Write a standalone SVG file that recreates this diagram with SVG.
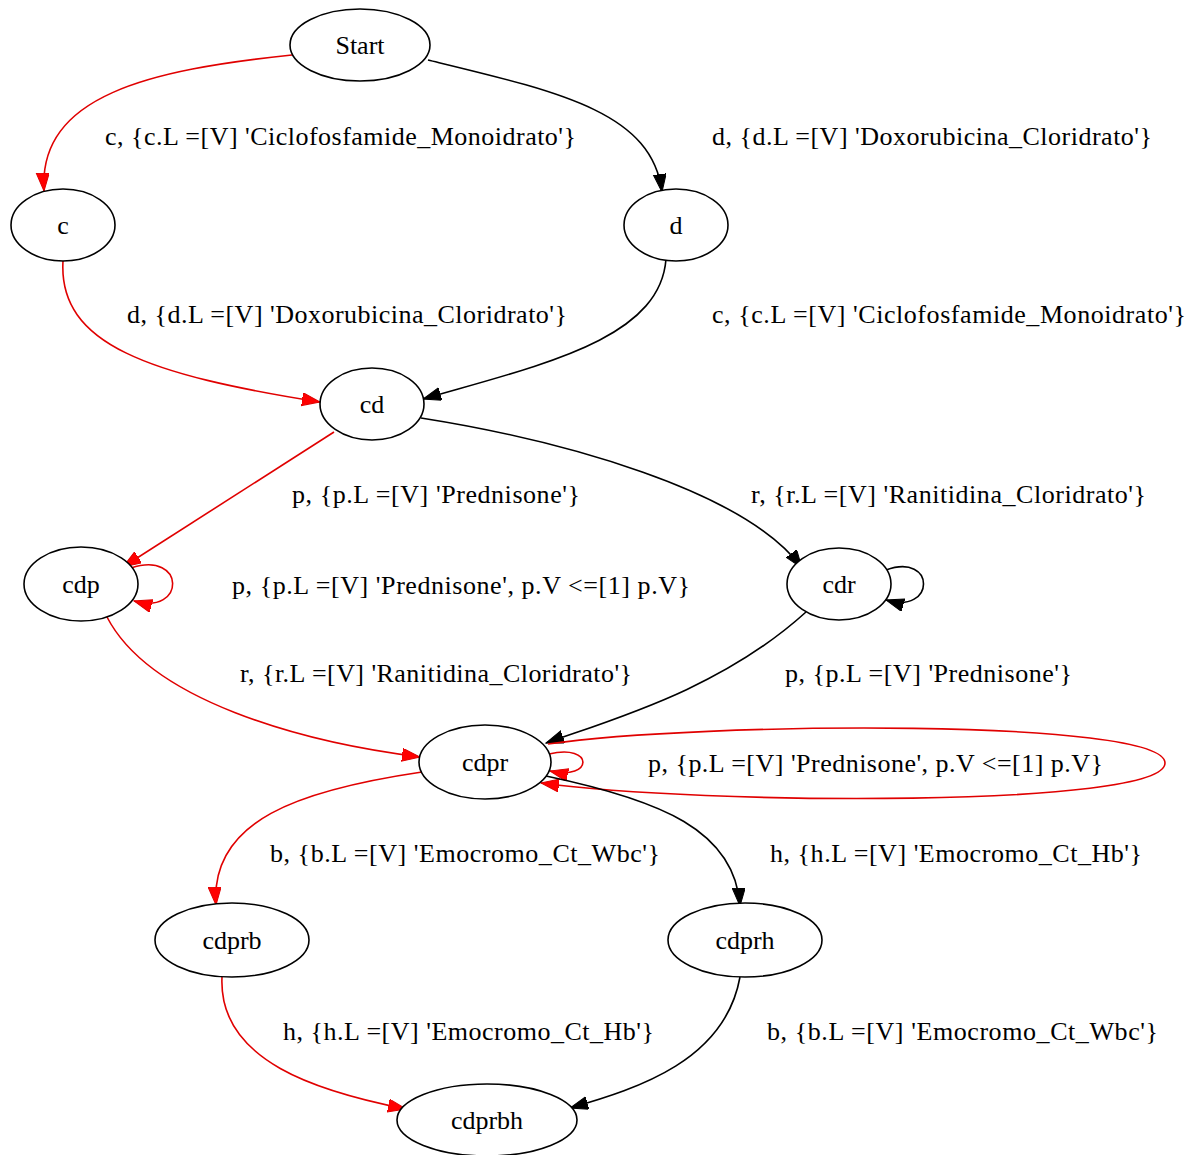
<svg xmlns="http://www.w3.org/2000/svg" width="1195" height="1155" viewBox="0 0 1195 1155">
  <style>
    .node ellipse { fill: #fff; stroke: #000; stroke-width: 1.6; }
    text { font-family: "Liberation Serif", "Times New Roman", serif; font-size: 26px; fill: #000; }
    .node text { text-anchor: middle; }
    .edge { fill: none; stroke-width: 1.6; }
    .red { stroke: #e00000; marker-end: url(#arrowRed); }
    .blk { stroke: #000; marker-end: url(#arrowBlk); }
  </style>
  <defs>
    <marker id="arrowRed" markerUnits="userSpaceOnUse" markerWidth="20" markerHeight="14" refX="18" refY="6.5" orient="auto">
      <path d="M0,0 L18,6.5 L0,13 z" fill="#ff0000" stroke="#e00000" stroke-width="1"/>
    </marker>
    <marker id="arrowBlk" markerUnits="userSpaceOnUse" markerWidth="20" markerHeight="14" refX="18" refY="6.5" orient="auto">
      <path d="M0,0 L18,6.5 L0,13 z" fill="#000" stroke="#000" stroke-width="1"/>
    </marker>
  </defs>
  <rect width="1195" height="1155" fill="#fff"/>

  <!-- connectors -->
  <g id="edges">
    <path class="edge red" d="M292,55 C150,70 38,95 44,191"/>
    <path class="edge blk" d="M428,60 C560,92 652,112 662,192"/>
    <path class="edge red" d="M63,261 C58,345 150,375 320,402"/>
    <path class="edge blk" d="M666,259 C660,340 540,365 423,399"/>
    <path class="edge red" d="M334,432 L123,567"/>
    <path class="edge blk" d="M421,418 C560,440 745,490 802,568"/>
    <path class="edge red" d="M131,568 C186,550 186,616 134,601"/>
    <path class="edge blk" d="M886,570 C936,552 936,615 886,600"/>
    <path class="edge red" d="M107,617 C150,700 300,742 420,757"/>
    <path class="edge blk" d="M806,612 C720,690 610,720 546,743"/>
    <path class="edge red" d="M549,754 C594,743 594,781 550,771"/>
    <path class="edge red" d="M548,744 C700,722 1165,718 1165,763 C1165,808 700,805 541,783"/>
    <path class="edge red" d="M422,772 C300,790 210,820 216,905"/>
    <path class="edge blk" d="M546,776 C660,800 735,830 740,906"/>
    <path class="edge red" d="M222,977 C218,1062 320,1092 406,1109"/>
    <path class="edge blk" d="M740,977 C725,1060 640,1088 570,1108"/>
  </g>

  <!-- edge labels -->
  <g id="labels">
    <text x="105" y="145" textLength="471">c, {c.L =[V] 'Ciclofosfamide_Monoidrato'}</text>
    <text x="712" y="145" textLength="440">d, {d.L =[V] 'Doxorubicina_Cloridrato'}</text>
    <text x="127" y="323" textLength="440">d, {d.L =[V] 'Doxorubicina_Cloridrato'}</text>
    <text x="712" y="323" textLength="474">c, {c.L =[V] 'Ciclofosfamide_Monoidrato'}</text>
    <text x="292" y="503" textLength="288">p, {p.L =[V] 'Prednisone'}</text>
    <text x="751" y="503" textLength="395">r, {r.L =[V] 'Ranitidina_Cloridrato'}</text>
    <text x="232" y="594" textLength="458">p, {p.L =[V] 'Prednisone', p.V &lt;=[1] p.V}</text>
    <text x="240" y="682" textLength="392">r, {r.L =[V] 'Ranitidina_Cloridrato'}</text>
    <text x="785" y="682" textLength="287">p, {p.L =[V] 'Prednisone'}</text>
    <text x="648" y="772" textLength="455">p, {p.L =[V] 'Prednisone', p.V &lt;=[1] p.V}</text>
    <text x="270" y="862" textLength="390">b, {b.L =[V] 'Emocromo_Ct_Wbc'}</text>
    <text x="770" y="862" textLength="372">h, {h.L =[V] 'Emocromo_Ct_Hb'}</text>
    <text x="283" y="1040" textLength="371">h, {h.L =[V] 'Emocromo_Ct_Hb'}</text>
    <text x="767" y="1040" textLength="391">b, {b.L =[V] 'Emocromo_Ct_Wbc'}</text>
  </g>

  <!-- nodes -->
  <g id="node-Start" class="node"><ellipse cx="360" cy="45" rx="70" ry="36"/><text x="360" y="54">Start</text></g>
  <g id="node-c" class="node"><ellipse cx="63" cy="225" rx="52" ry="36"/><text x="63" y="234">c</text></g>
  <g id="node-d" class="node"><ellipse cx="676" cy="225" rx="52" ry="36"/><text x="676" y="234">d</text></g>
  <g id="node-cd" class="node"><ellipse cx="372" cy="404" rx="52" ry="36"/><text x="372" y="413">cd</text></g>
  <g id="node-cdp" class="node"><ellipse cx="81" cy="584" rx="57" ry="37"/><text x="81" y="593">cdp</text></g>
  <g id="node-cdr" class="node"><ellipse cx="839" cy="584" rx="52" ry="36"/><text x="839" y="593">cdr</text></g>
  <g id="node-cdpr" class="node"><ellipse cx="485" cy="762" rx="66" ry="37"/><text x="485" y="771">cdpr</text></g>
  <g id="node-cdprb" class="node"><ellipse cx="232" cy="940" rx="77" ry="37"/><text x="232" y="949">cdprb</text></g>
  <g id="node-cdprh" class="node"><ellipse cx="745" cy="940" rx="77" ry="37"/><text x="745" y="949">cdprh</text></g>
  <g id="node-cdprbh" class="node"><ellipse cx="487" cy="1120" rx="90" ry="36"/><text x="487" y="1129">cdprbh</text></g>
</svg>
